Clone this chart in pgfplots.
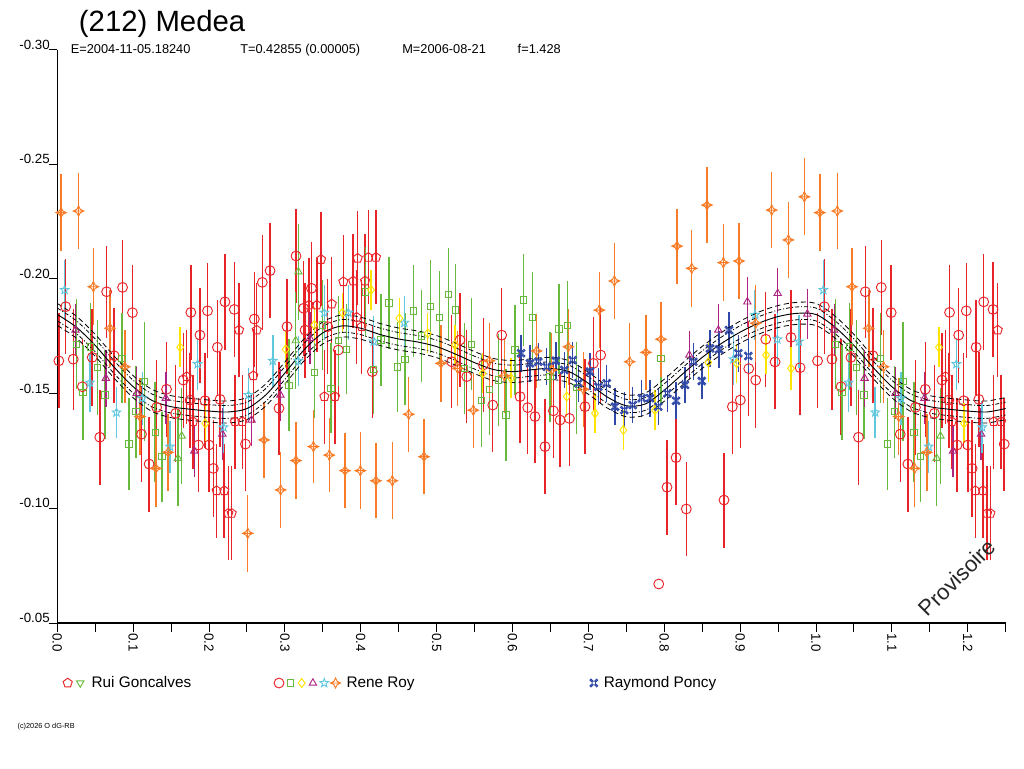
\documentclass[border=0pt]{standalone}
\usepackage{fontspec}
\setmainfont{Liberation Sans}
\usepackage{pgfplots}
\usepackage{pgfplotstable}
\pgfplotsset{compat=1.18}
\usetikzlibrary{plotmarks}

\definecolor{cred}{RGB}{232,36,40}
\definecolor{cgreen}{RGB}{104,186,62}
\definecolor{cyellow}{RGB}{255,228,0}
\definecolor{cpurple}{RGB}{172,36,128}
\definecolor{ccyan}{RGB}{96,200,222}
\definecolor{corange}{RGB}{248,124,40}
\definecolor{cblue}{RGB}{48,72,168}

\pgfdeclareplotmark{fstar}{%
  \pgfpathmoveto{\pgfqpointpolar{90}{\pgfplotmarksize}}%
  \pgfpathlineto{\pgfqpointpolar{126}{0.42\pgfplotmarksize}}%
  \pgfpathlineto{\pgfqpointpolar{162}{\pgfplotmarksize}}%
  \pgfpathlineto{\pgfqpointpolar{198}{0.42\pgfplotmarksize}}%
  \pgfpathlineto{\pgfqpointpolar{234}{\pgfplotmarksize}}%
  \pgfpathlineto{\pgfqpointpolar{270}{0.42\pgfplotmarksize}}%
  \pgfpathlineto{\pgfqpointpolar{306}{\pgfplotmarksize}}%
  \pgfpathlineto{\pgfqpointpolar{342}{0.42\pgfplotmarksize}}%
  \pgfpathlineto{\pgfqpointpolar{18}{\pgfplotmarksize}}%
  \pgfpathlineto{\pgfqpointpolar{54}{0.42\pgfplotmarksize}}%
  \pgfpathclose\pgfusepathqstroke}
\pgfdeclareplotmark{fourstar}{%
  \pgfpathmoveto{\pgfqpoint{0pt}{\pgfplotmarksize}}%
  \pgfpathlineto{\pgfqpoint{0.32\pgfplotmarksize}{0.32\pgfplotmarksize}}%
  \pgfpathlineto{\pgfqpoint{\pgfplotmarksize}{0pt}}%
  \pgfpathlineto{\pgfqpoint{0.32\pgfplotmarksize}{-0.32\pgfplotmarksize}}%
  \pgfpathlineto{\pgfqpoint{0pt}{-\pgfplotmarksize}}%
  \pgfpathlineto{\pgfqpoint{-0.32\pgfplotmarksize}{-0.32\pgfplotmarksize}}%
  \pgfpathlineto{\pgfqpoint{-\pgfplotmarksize}{0pt}}%
  \pgfpathlineto{\pgfqpoint{-0.32\pgfplotmarksize}{0.32\pgfplotmarksize}}%
  \pgfpathclose
  \pgfpathmoveto{\pgfqpoint{-\pgfplotmarksize}{0pt}}\pgfpathlineto{\pgfqpoint{\pgfplotmarksize}{0pt}}%
  \pgfusepathqstroke}
\pgfdeclareplotmark{cmdmark}{%
  \pgfpathrectanglecorners{\pgfqpoint{-0.45\pgfplotmarksize}{-0.45\pgfplotmarksize}}{\pgfqpoint{0.45\pgfplotmarksize}{0.45\pgfplotmarksize}}%
  \pgfpathcircle{\pgfqpoint{-0.7\pgfplotmarksize}{0.7\pgfplotmarksize}}{0.28\pgfplotmarksize}%
  \pgfpathcircle{\pgfqpoint{0.7\pgfplotmarksize}{0.7\pgfplotmarksize}}{0.28\pgfplotmarksize}%
  \pgfpathcircle{\pgfqpoint{-0.7\pgfplotmarksize}{-0.7\pgfplotmarksize}}{0.28\pgfplotmarksize}%
  \pgfpathcircle{\pgfqpoint{0.7\pgfplotmarksize}{-0.7\pgfplotmarksize}}{0.28\pgfplotmarksize}%
  \pgfusepathqstroke}

\newcommand{\lgmark}[5]{\begin{scope}[shift={(#1,0pt)},rotate=#5,#2,line width=0.7pt,solid]\pgfsetplotmarksize{#4}\pgfuseplotmark{#3}\end{scope}}

\pgfplotsset{
  dp/.style={only marks, forget plot, mark options={solid, line width=0.7pt},
    error bars/y dir=both, error bars/y explicit, error bars/error mark=none,
    error bars/error bar style={line width=1.1pt, solid}},
}

\pgfplotstableread{
x c u1 l1 u2 l2
0.000 -0.1845 -0.1893 -0.1797 -0.1873 -0.1817
0.025 -0.1790 -0.1838 -0.1742 -0.1818 -0.1762
0.050 -0.1710 -0.1758 -0.1662 -0.1738 -0.1682
0.075 -0.1615 -0.1663 -0.1567 -0.1643 -0.1587
0.100 -0.1530 -0.1578 -0.1482 -0.1558 -0.1502
0.125 -0.1470 -0.1518 -0.1422 -0.1498 -0.1442
0.150 -0.1443 -0.1491 -0.1395 -0.1471 -0.1415
0.175 -0.1432 -0.1480 -0.1384 -0.1460 -0.1404
0.200 -0.1424 -0.1472 -0.1376 -0.1452 -0.1396
0.225 -0.1420 -0.1468 -0.1372 -0.1448 -0.1392
0.250 -0.1435 -0.1483 -0.1387 -0.1463 -0.1407
0.275 -0.1495 -0.1543 -0.1447 -0.1523 -0.1467
0.300 -0.1590 -0.1638 -0.1542 -0.1618 -0.1562
0.325 -0.1690 -0.1738 -0.1642 -0.1718 -0.1662
0.350 -0.1765 -0.1813 -0.1717 -0.1793 -0.1737
0.375 -0.1795 -0.1843 -0.1747 -0.1823 -0.1767
0.400 -0.1785 -0.1833 -0.1737 -0.1813 -0.1757
0.425 -0.1758 -0.1806 -0.1710 -0.1786 -0.1730
0.450 -0.1738 -0.1786 -0.1690 -0.1766 -0.1710
0.475 -0.1725 -0.1773 -0.1677 -0.1753 -0.1697
0.500 -0.1705 -0.1753 -0.1657 -0.1733 -0.1677
0.525 -0.1672 -0.1720 -0.1624 -0.1700 -0.1644
0.550 -0.1635 -0.1683 -0.1587 -0.1663 -0.1607
0.575 -0.1605 -0.1653 -0.1557 -0.1633 -0.1577
0.600 -0.1596 -0.1644 -0.1548 -0.1624 -0.1568
0.625 -0.1604 -0.1652 -0.1556 -0.1632 -0.1576
0.650 -0.1610 -0.1658 -0.1562 -0.1638 -0.1582
0.675 -0.1595 -0.1643 -0.1547 -0.1623 -0.1567
0.700 -0.1545 -0.1593 -0.1497 -0.1573 -0.1517
0.725 -0.1485 -0.1533 -0.1437 -0.1513 -0.1457
0.750 -0.1447 -0.1495 -0.1399 -0.1475 -0.1419
0.775 -0.1455 -0.1503 -0.1407 -0.1483 -0.1427
0.800 -0.1515 -0.1563 -0.1467 -0.1543 -0.1487
0.825 -0.1588 -0.1636 -0.1540 -0.1616 -0.1560
0.850 -0.1658 -0.1706 -0.1610 -0.1686 -0.1630
0.875 -0.1718 -0.1766 -0.1670 -0.1746 -0.1690
0.900 -0.1768 -0.1816 -0.1720 -0.1796 -0.1740
0.925 -0.1808 -0.1856 -0.1760 -0.1836 -0.1780
0.950 -0.1836 -0.1884 -0.1788 -0.1864 -0.1808
0.975 -0.1850 -0.1898 -0.1802 -0.1878 -0.1822
1.000 -0.1845 -0.1893 -0.1797 -0.1873 -0.1817
1.025 -0.1790 -0.1838 -0.1742 -0.1818 -0.1762
1.050 -0.1710 -0.1758 -0.1662 -0.1738 -0.1682
1.075 -0.1615 -0.1663 -0.1567 -0.1643 -0.1587
1.100 -0.1530 -0.1578 -0.1482 -0.1558 -0.1502
1.125 -0.1470 -0.1518 -0.1422 -0.1498 -0.1442
1.150 -0.1443 -0.1491 -0.1395 -0.1471 -0.1415
1.175 -0.1432 -0.1480 -0.1384 -0.1460 -0.1404
1.200 -0.1424 -0.1472 -0.1376 -0.1452 -0.1396
1.225 -0.1420 -0.1468 -0.1372 -0.1448 -0.1392
1.250 -0.1435 -0.1483 -0.1387 -0.1463 -0.1407
}\fittab

\begin{document}
\begin{tikzpicture}[x=1pt,y=1pt]
\useasboundingbox (0,0) rectangle (768,576);
\begin{axis}[
  at={(42.98pt,108.75pt)}, anchor=south west,
  scale only axis, width=711.3pt, height=430.1pt,
  xmin=0, xmax=1.25, ymin=-0.30, ymax=-0.05, y dir=reverse,
  enlargelimits=false,
  axis x line=bottom, axis y line=left,
  axis line style={-, line width=0.9pt, black},
  xtick={0,0.1,0.2,0.3,0.4,0.5,0.6,0.7,0.8,0.9,1.0,1.1,1.2},
  minor xtick={0.05,0.15,0.25,0.35,0.45,0.55,0.65,0.75,0.85,0.95,1.05,1.15,1.25},
  ytick={-0.30,-0.25,-0.20,-0.15,-0.10,-0.05},
  tick align=outside, major tick length=6.5pt, minor tick length=6.5pt,
  every tick/.style={black, line width=0.75pt},
  tick label style={font=\fontsize{10}{12}\selectfont},
  /pgf/number format/assume math mode=true,
  xticklabel style={rotate=-90, anchor=west, inner sep=1pt, /pgf/number format/.cd, fixed, fixed zerofill, precision=1},
  yticklabel style={anchor=south east, inner sep=1pt, xshift=2pt, yshift=-1pt, /pgf/number format/.cd, fixed, fixed zerofill, precision=2},
  legend columns=3,
  legend style={at={(axis description cs:0,0)}, anchor=west, xshift=3.6pt, yshift=-45pt,
    draw=none, fill=none, inner sep=0pt, /tikz/column sep=0pt,
    nodes={inner sep=0pt, anchor=west}, font=\fontsize{11.5}{13}\selectfont},
]
% Rene Roy red circles
\addplot[cred, mark=o, mark size=3.7pt, dp] table[x=x,y=y,y error=e,row sep=\\]{
x y e\\
0.002 -0.1643 0.0207\\
0.011 -0.1879 0.0207\\
0.021 -0.1650 0.0220\\
0.033 -0.1530 0.0210\\
0.046 -0.1658 0.0210\\
0.056 -0.1310 0.0207\\
0.065 -0.1944 0.0200\\
0.075 -0.1665 0.0207\\
0.086 -0.1963 0.0207\\
0.099 -0.1853 0.0207\\
0.111 -0.1323 0.0210\\
0.121 -0.1193 0.0207\\
0.131 -0.1440 0.0207\\
0.144 -0.1519 0.0207\\
0.156 -0.1414 0.0210\\
0.166 -0.1559 0.0207\\
0.175 -0.1472 0.0207\\
0.176 -0.1854 0.0207\\
0.186 -0.1276 0.0207\\
0.188 -0.1755 0.0207\\
0.1947 -0.1469 0.0207\\
0.198 -0.1861 0.0207\\
0.200 -0.1276 0.0207\\
0.2057 -0.1174 0.0210\\
0.211 -0.1702 0.0207\\
0.2145 -0.1475 0.0207\\
0.221 -0.1900 0.0210\\
0.2333 -0.1867 0.0207\\
0.248 -0.1280 0.0203\\
0.2597 -0.1825 0.0207\\
0.2702 -0.1985 0.0207\\
0.2804 -0.2036 0.0207\\
0.2922 -0.1436 0.0203\\
0.3028 -0.1792 0.0207\\
0.3146 -0.2100 0.0207\\
0.3246 -0.1872 0.0207\\
0.3265 -0.1777 0.0207\\
0.335 -0.1959 0.0203\\
0.3564 -0.1792 0.0207\\
0.3704 -0.1690 0.0203\\
0.4152 -0.1596 0.0203\\
0.5198 -0.1639 0.0203\\
0.5308 -0.1734 0.0203\\
0.5396 -0.1574 0.0203\\
0.5615 -0.1625 0.0203\\
0.5739 -0.1450 0.0203\\
0.5857 -0.1755 0.0207\\
0.6099 -0.1487 0.0203\\
0.6200 -0.1439 0.0203\\
0.6296 -0.1400 0.0203\\
0.6428 -0.1269 0.0207\\
0.6538 -0.1425 0.0207\\
0.6626 -0.1385 0.0207\\
0.6749 -0.1392 0.0207\\
0.6955 -0.1443 0.0207\\
0.7065 -0.1632 0.0203\\
0.7162 -0.1668 0.0207\\
0.7927 -0.0670 0.0000\\
0.8036 -0.1092 0.0207\\
0.8155 -0.1221 0.0207\\
0.8290 -0.0997 0.0207\\
0.8787 -0.1036 0.0207\\
0.8897 -0.1443 0.0207\\
0.9002 -0.1472 0.0207\\
0.9113 -0.1609 0.0207\\
0.9205 -0.1559 0.0207\\
0.9337 -0.1737 0.0207\\
0.9460 -0.1638 0.0207\\
0.9670 -0.1745 0.0207\\
0.9790 -0.1613 0.0207\\
1.002 -0.1643 0.0207\\
1.011 -0.1879 0.0207\\
1.021 -0.1650 0.0220\\
1.033 -0.1530 0.0210\\
1.046 -0.1658 0.0210\\
1.056 -0.1310 0.0207\\
1.065 -0.1944 0.0200\\
1.075 -0.1665 0.0207\\
1.086 -0.1963 0.0207\\
1.099 -0.1853 0.0207\\
1.111 -0.1323 0.0210\\
1.121 -0.1193 0.0207\\
1.131 -0.1440 0.0207\\
1.144 -0.1519 0.0207\\
1.156 -0.1414 0.0210\\
1.166 -0.1559 0.0207\\
1.175 -0.1472 0.0207\\
1.176 -0.1854 0.0207\\
1.186 -0.1276 0.0207\\
1.188 -0.1755 0.0207\\
1.1947 -0.1469 0.0207\\
1.198 -0.1861 0.0207\\
1.200 -0.1276 0.0207\\
1.2057 -0.1174 0.0210\\
1.211 -0.1702 0.0207\\
1.2145 -0.1475 0.0207\\
1.221 -0.1900 0.0210\\
1.2333 -0.1867 0.0207\\
1.248 -0.1280 0.0203\\
};
% Rui Goncalves red pentagons
\addplot[cred, mark=pentagon, mark size=3.6pt, dp] table[x=x,y=y,y error=e,row sep=\\]{
x y e\\
0.1706 -0.1574 0.0205\\
0.1790 -0.1378 0.0205\\
0.2100 -0.1077 0.0205\\
0.2200 -0.1077 0.0205\\
0.2254 -0.0978 0.0205\\
0.2298 -0.0978 0.0205\\
0.2342 -0.1378 0.0205\\
0.2395 -0.1777 0.0205\\
0.2439 -0.1378 0.0205\\
0.2583 -0.1578 0.0205\\
0.2628 -0.1777 0.0205\\
0.3318 -0.1886 0.0205\\
0.3420 -0.1886 0.0205\\
0.3476 -0.2085 0.0205\\
0.3520 -0.1487 0.0205\\
0.3617 -0.1891 0.0205\\
0.3660 -0.1487 0.0205\\
0.3770 -0.1988 0.0205\\
0.3900 -0.1991 0.0205\\
0.3946 -0.1833 0.0205\\
0.3959 -0.2090 0.0205\\
0.4012 -0.1792 0.0205\\
0.4056 -0.1991 0.0205\\
0.4100 -0.2094 0.0205\\
0.4200 -0.2094 0.0205\\
1.1706 -0.1574 0.0205\\
1.1790 -0.1378 0.0205\\
1.2100 -0.1077 0.0205\\
1.2200 -0.1077 0.0205\\
1.2254 -0.0978 0.0205\\
1.2298 -0.0978 0.0205\\
1.2342 -0.1378 0.0205\\
1.2395 -0.1777 0.0205\\
1.2439 -0.1378 0.0205\\
};
% Rene Roy green squares
\addplot[cgreen, mark=square, mark size=2.4pt, dp] table[x=x,y=y,y error=e,row sep=\\]{
x y e\\
0.0255 -0.1715 0.0196\\
0.0340 -0.1504 0.0207\\
0.0440 -0.1704 0.0190\\
0.0530 -0.1615 0.0207\\
0.0630 -0.1494 0.0190\\
0.0850 -0.1654 0.0196\\
0.0945 -0.1280 0.0200\\
0.1037 -0.1421 0.0200\\
0.1147 -0.1552 0.0260\\
0.1290 -0.1331 0.0218\\
0.1380 -0.1225 0.0196\\
0.3054 -0.1536 0.0200\\
0.3388 -0.1591 0.0196\\
0.3493 -0.1799 0.0196\\
0.3607 -0.1523 0.0196\\
0.3704 -0.1731 0.0196\\
0.3814 -0.1693 0.0196\\
0.4065 -0.1944 0.0196\\
0.4165 -0.1606 0.0196\\
0.4267 -0.1734 0.0200\\
0.4372 -0.1896 0.0200\\
0.4487 -0.1617 0.0196\\
0.4583 -0.1650 0.0200\\
0.4692 -0.1860 0.0200\\
0.4803 -0.1751 0.0200\\
0.4917 -0.1879 0.0203\\
0.5035 -0.1833 0.0200\\
0.5154 -0.1933 0.0200\\
0.5251 -0.1864 0.0200\\
0.5365 -0.1610 0.0200\\
0.5462 -0.1715 0.0200\\
0.5594 -0.1469 0.0200\\
0.5694 -0.1519 0.0200\\
0.5813 -0.1559 0.0200\\
0.5914 -0.1407 0.0200\\
0.6033 -0.1690 0.0196\\
0.6147 -0.1908 0.0200\\
0.6266 -0.1831 0.0200\\
0.6494 -0.1574 0.0196\\
0.6613 -0.1782 0.0196\\
0.6722 -0.1796 0.0196\\
0.6846 -0.1526 0.0200\\
0.7957 -0.1654 0.0200\\
1.0255 -0.1715 0.0196\\
1.0340 -0.1504 0.0207\\
1.0440 -0.1704 0.0190\\
1.0530 -0.1615 0.0207\\
1.0630 -0.1494 0.0190\\
1.0850 -0.1654 0.0196\\
1.0945 -0.1280 0.0200\\
1.1037 -0.1421 0.0200\\
1.1147 -0.1552 0.0260\\
1.1290 -0.1331 0.0218\\
1.1380 -0.1225 0.0196\\
};
% Rui Goncalves green triangles down
\addplot[cgreen, mark=triangle, mark size=3.2pt, mark options={rotate=180}, dp] table[x=x,y=y,y error=e,row sep=\\]{
x y e\\
0.1590 -0.1218 0.0210\\
0.1640 -0.1315 0.0210\\
0.3142 -0.1731 0.0210\\
0.3177 -0.2031 0.0210\\
1.1590 -0.1218 0.0210\\
1.1640 -0.1315 0.0210\\
};
% Rene Roy purple triangles
\addplot[cpurple, mark=triangle, mark size=3.2pt, dp] table[x=x,y=y,y error=e,row sep=\\]{
x y e\\
0.0240 -0.1777 0.0113\\
0.0640 -0.1567 0.0124\\
0.1047 -0.1501 0.0113\\
0.1430 -0.1480 0.0113\\
0.1806 -0.1250 0.0113\\
0.2175 -0.1324 0.0113\\
0.2560 -0.1385 0.0113\\
0.2940 -0.1494 0.0113\\
0.3330 -0.1741 0.0113\\
0.8330 -0.1668 0.0105\\
0.8712 -0.1777 0.0113\\
0.9095 -0.1900 0.0110\\
0.9495 -0.1937 0.0110\\
0.9885 -0.1847 0.0110\\
1.0240 -0.1777 0.0113\\
1.0640 -0.1567 0.0124\\
1.1047 -0.1501 0.0113\\
1.1430 -0.1480 0.0113\\
1.1806 -0.1250 0.0113\\
1.2175 -0.1324 0.0113\\
};
% Rene Roy cyan stars
\addplot[ccyan, mark=fstar, mark size=3.4pt, dp] table[x=x,y=y,y error=e,row sep=\\]{
x y e\\
0.0096 -0.1952 0.0130\\
0.0430 -0.1548 0.0127\\
0.0780 -0.1418 0.0113\\
0.1120 -0.1480 0.0116\\
0.1485 -0.1269 0.0113\\
0.1850 -0.1629 0.0113\\
0.2190 -0.1353 0.0113\\
0.2520 -0.1494 0.0116\\
0.2840 -0.1643 0.0113\\
0.3177 -0.1643 0.0110\\
0.3520 -0.1853 0.0120\\
0.3836 -0.1853 0.0120\\
0.4170 -0.1727 0.0113\\
0.4574 -0.1809 0.0116\\
0.8911 -0.1650 0.0113\\
0.9196 -0.1843 0.0110\\
0.9490 -0.1737 0.0113\\
0.9776 -0.1727 0.0116\\
1.0096 -0.1952 0.0130\\
1.0430 -0.1548 0.0127\\
1.0780 -0.1418 0.0113\\
1.1120 -0.1480 0.0116\\
1.1485 -0.1269 0.0113\\
1.1850 -0.1629 0.0113\\
1.2190 -0.1353 0.0113\\
};
% Rene Roy yellow diamonds
\addplot[cyellow, mark=diamond, mark size=3.4pt, dp] table[x=x,y=y,y error=e,row sep=\\]{
x y e\\
0.1620 -0.1702 0.0087\\
0.1950 -0.1370 0.0087\\
0.3010 -0.1693 0.0080\\
0.3388 -0.1799 0.0080\\
0.3757 -0.1853 0.0087\\
0.4135 -0.1952 0.0087\\
0.4508 -0.1828 0.0087\\
0.4882 -0.1763 0.0087\\
0.5242 -0.1712 0.0087\\
0.5607 -0.1588 0.0087\\
0.5980 -0.1567 0.0087\\
0.6714 -0.1487 0.0087\\
0.7087 -0.1414 0.0087\\
0.7460 -0.1341 0.0087\\
0.7878 -0.1428 0.0087\\
0.8580 -0.1636 0.0084\\
0.8955 -0.1632 0.0084\\
0.9341 -0.1668 0.0084\\
0.9670 -0.1610 0.0095\\
1.1620 -0.1702 0.0087\\
1.1950 -0.1370 0.0087\\
};
% Rene Roy orange four-point stars
\addplot[corange, mark=fourstar, mark size=4pt, mark options={line width=0.55pt}, dp] table[x=x,y=y,y error=e,row sep=\\]{
x y e\\
0.0050 -0.2289 0.0167\\
0.0280 -0.2296 0.0166\\
0.0475 -0.1966 0.0167\\
0.0695 -0.1785 0.0167\\
0.0890 -0.1617 0.0160\\
0.1090 -0.1400 0.0167\\
0.1300 -0.1174 0.0167\\
0.1460 -0.1244 0.0167\\
0.2510 -0.0891 0.0167\\
0.2725 -0.1298 0.0167\\
0.2944 -0.1080 0.0167\\
0.3146 -0.1208 0.0167\\
0.3375 -0.1269 0.0160\\
0.3585 -0.1232 0.0163\\
0.3792 -0.1164 0.0163\\
0.3994 -0.1164 0.0167\\
0.4200 -0.1120 0.0163\\
0.4416 -0.1120 0.0167\\
0.4632 -0.1410 0.0163\\
0.4833 -0.1225 0.0163\\
0.5057 -0.1632 0.0167\\
0.5277 -0.1610 0.0163\\
0.5483 -0.1428 0.0163\\
0.5694 -0.1643 0.0163\\
0.5892 -0.1578 0.0163\\
0.6318 -0.1686 0.0163\\
0.6516 -0.1603 0.0163\\
0.6735 -0.1704 0.0167\\
0.6933 -0.1519 0.0163\\
0.7144 -0.1864 0.0167\\
0.7342 -0.1991 0.0167\\
0.7544 -0.1639 0.0167\\
0.7759 -0.1680 0.0163\\
0.7957 -0.1737 0.0163\\
0.8168 -0.2143 0.0163\\
0.8362 -0.2046 0.0167\\
0.8563 -0.2322 0.0167\\
0.8778 -0.2071 0.0167\\
0.8985 -0.2078 0.0167\\
0.9205 -0.1807 0.0167\\
0.9416 -0.2300 0.0167\\
0.9635 -0.2170 0.0167\\
0.9846 -0.2358 0.0167\\
1.0050 -0.2289 0.0167\\
1.0280 -0.2296 0.0166\\
1.0475 -0.1966 0.0167\\
1.0695 -0.1785 0.0167\\
1.0890 -0.1617 0.0160\\
1.1090 -0.1400 0.0167\\
1.1300 -0.1174 0.0167\\
1.1460 -0.1244 0.0167\\
};
% Raymond Poncy blue
\addplot[cblue, mark=cmdmark, mark size=3pt, dp] table[x=x,y=y,y error=e,row sep=\\]{
x y e\\
0.6112 -0.1676 0.0080\\
0.6230 -0.1632 0.0080\\
0.6340 -0.1639 0.0080\\
0.6450 -0.1617 0.0080\\
0.6570 -0.1643 0.0080\\
0.6683 -0.1603 0.0080\\
0.6793 -0.1646 0.0080\\
0.6867 -0.1545 0.0080\\
0.7021 -0.1596 0.0080\\
0.7131 -0.1530 0.0080\\
0.7241 -0.1545 0.0080\\
0.7350 -0.1443 0.0080\\
0.7473 -0.1428 0.0080\\
0.7584 -0.1450 0.0080\\
0.7703 -0.1480 0.0080\\
0.7812 -0.1480 0.0080\\
0.7922 -0.1443 0.0080\\
0.8040 -0.1501 0.0080\\
0.8155 -0.1469 0.0080\\
0.8273 -0.1538 0.0080\\
0.8383 -0.1639 0.0080\\
0.8494 -0.1555 0.0080\\
0.8603 -0.1697 0.0080\\
0.8722 -0.1693 0.0080\\
0.8853 -0.1777 0.0080\\
0.8976 -0.1676 0.0080\\
0.9108 -0.1664 0.0080\\
};
% fit curve and envelopes
\addplot[black, line width=0.7pt, smooth, mark=none, forget plot] table[x=x,y=c]{\fittab};
\addplot[black, line width=0.6pt, smooth, mark=none, dash pattern=on 4pt off 2.5pt, forget plot] table[x=x,y=u1]{\fittab};
\addplot[black, line width=0.6pt, smooth, mark=none, dash pattern=on 4pt off 2.5pt, forget plot] table[x=x,y=l1]{\fittab};
\addplot[black, line width=0.6pt, smooth, mark=none, dash pattern=on 3pt off 1.5pt on 0.8pt off 1.5pt, forget plot] table[x=x,y=u2]{\fittab};
\addplot[black, line width=0.6pt, smooth, mark=none, dash pattern=on 3pt off 1.5pt on 0.8pt off 1.5pt, forget plot] table[x=x,y=l2]{\fittab};
% legend
\addlegendimage{legend image code/.code={
  \path[draw=none, fill=none] (-4pt,0pt) -- (17.9pt,0pt);
  \lgmark{0pt}{cred}{pentagon}{3.6pt}{0}
  \lgmark{9.4pt}{cgreen}{triangle}{3.2pt}{180}
}}
\addlegendentry{\makebox[136.6pt][l]{Rui Goncalves}}
\addlegendimage{legend image code/.code={
  \path[draw=none, fill=none] (-4pt,0pt) -- (50.6pt,0pt);
  \lgmark{0pt}{cred}{o}{3.7pt}{0}
  \lgmark{8.5pt}{cgreen}{square}{2.4pt}{0}
  \lgmark{17pt}{cyellow}{diamond}{3.4pt}{0}
  \lgmark{25.4pt}{cpurple}{triangle}{3.2pt}{0}
  \lgmark{33.9pt}{ccyan}{fstar}{3.4pt}{0}
  \lgmark{42.4pt}{corange}{fourstar}{3.8pt}{0}
}}
\addlegendentry{\makebox[181.5pt][l]{Rene Roy}}
\addlegendimage{legend image code/.code={
  \path[draw=none, fill=none] (-4pt,0pt) -- (7.5pt,0pt);
  \lgmark{0pt}{cblue}{cmdmark}{3pt}{0}
}}
\addlegendentry{Raymond Poncy}
\end{axis}
\node[anchor=base west, inner sep=0pt, font=\fontsize{22}{26}\selectfont] at (59,552) {(212) Medea};
\begin{scope}[every node/.style={anchor=base west, inner sep=0pt, font=\fontsize{9.6}{11}\selectfont}]
\node at (52.9,535.5) {E=2004-11-05.18240};
\node at (180,535.5) {T=0.42855 (0.00005)};
\node at (301.5,535.5) {M=2006-08-21};
\node at (388.1,535.5) {f=1.428};
\end{scope}
\node[anchor=base west, inner sep=0pt, font=\fontsize{5.5}{6}\selectfont] at (13,30) {(c)2026 O dG-RB};
\node[rotate=45, inner sep=0pt, text=black!85, font=\fontsize{16.5}{18}\selectfont] at (717.75,142.9) {Provisoire};
\end{tikzpicture}
\end{document}
